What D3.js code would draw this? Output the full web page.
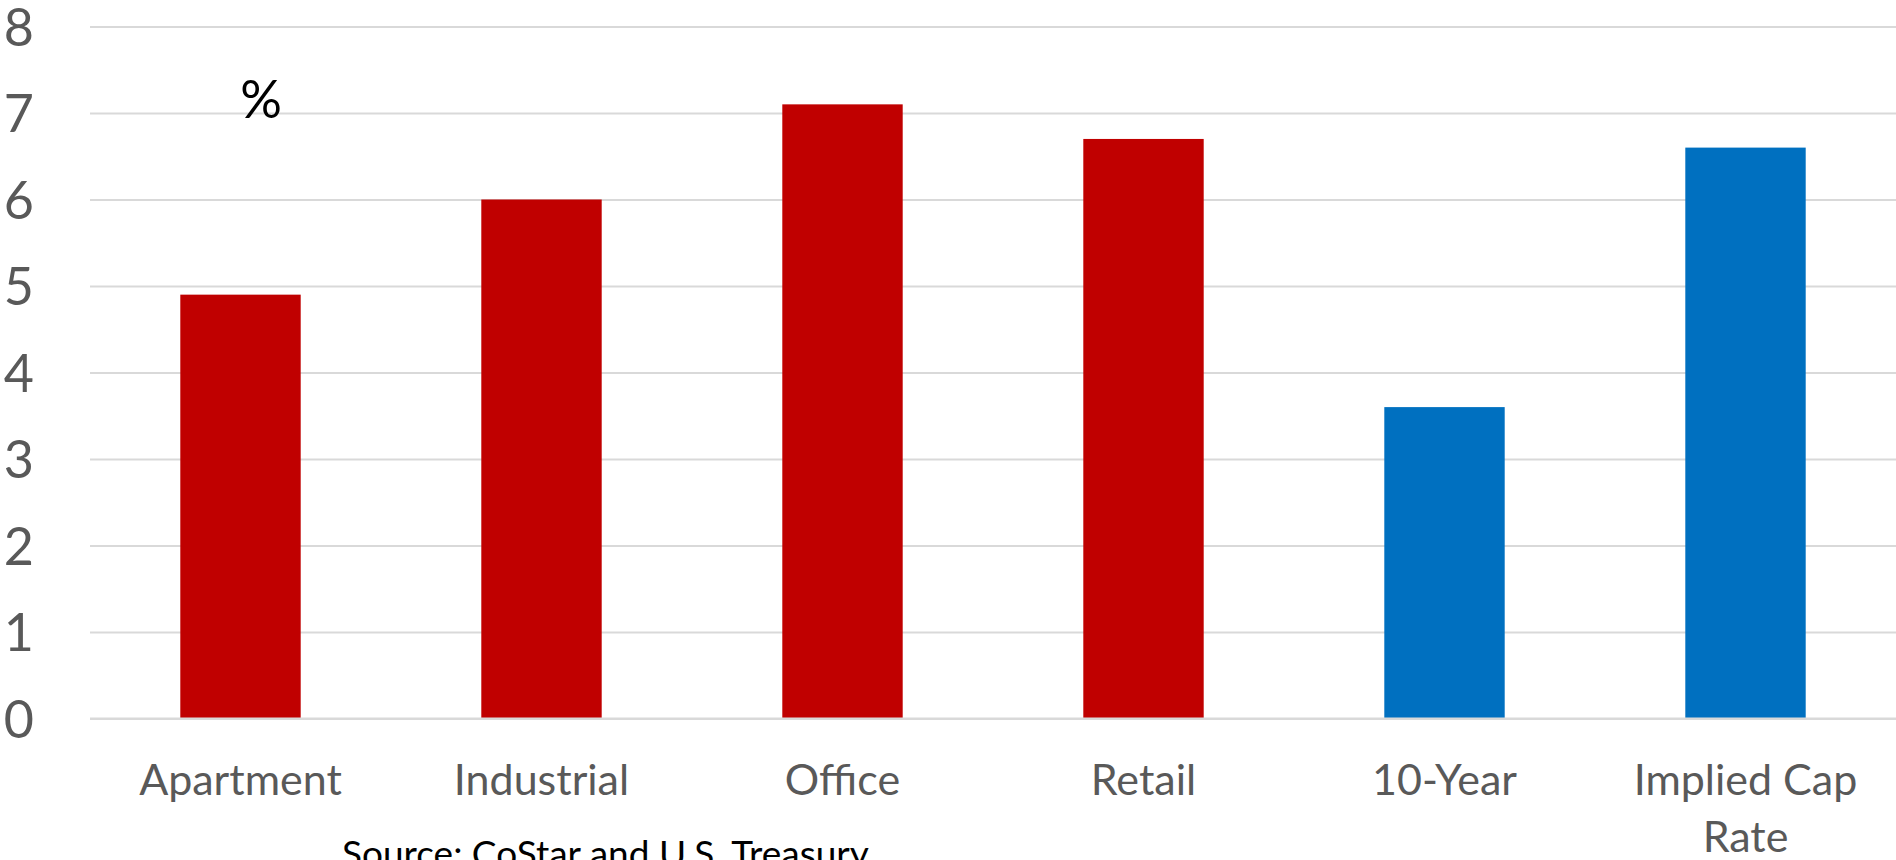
<!DOCTYPE html>
<html>
<head>
<meta charset="utf-8">
<script src="https://cdn.jsdelivr.net/npm/d3@7"></script>
<style>
  html, body { margin: 0; padding: 0; background: #fff; overflow: hidden; }
  svg { display: block; }
  text { font-family: Lato, "Open Sans", sans-serif; }
</style>
</head>
<body>
<svg id="chart" width="1896" height="860"></svg>
<script>
const categories = ["Apartment", "Industrial", "Office", "Retail", "10-Year", "Implied Cap Rate"];
const values = [4.9, 6.0, 7.1, 6.7, 3.6, 6.6];
const barColors = ["#C00000", "#C00000", "#C00000", "#C00000", "#0070C0", "#0070C0"];
const yTicks = [0, 1, 2, 3, 4, 5, 6, 7, 8];
const unitLabel = "%";
const sourceText = "Source: CoStar and U.S. Treasury";

const svg = d3.select("#chart");

const x = d3.scaleBand()
  .domain(categories)
  .range([90, 1896])
  .paddingInner(0.6)
  .paddingOuter(0.3);

const y = d3.scaleLinear()
  .domain([0, 8])
  .range([718.5, 26.5]);

// gridlines + tick labels
const yAxis = d3.axisLeft(y).tickValues(yTicks).tickSize(-(1896 - 90)).tickFormat(d3.format("d"));
const gAxis = svg.append("g").attr("transform", "translate(90,0)").call(yAxis);
gAxis.select(".domain").remove();
gAxis.selectAll(".tick line").attr("stroke", "#D9D9D9").attr("stroke-width", 2);
gAxis.selectAll(".tick text")
  .attr("x", -56)
  .attr("dy", null)
  .attr("y", 18.5)
  .attr("text-anchor", "end")
  .attr("fill", "#595959")
  .style("font-size", "52px");

// bars
svg.append("g").selectAll("rect")
  .data(values)
  .join("rect")
  .attr("x", (d, i) => x(categories[i]))
  .attr("width", x.bandwidth())
  .attr("y", d => y(d))
  .attr("height", d => y(0) - y(d))
  .attr("fill", (d, i) => barColors[i]);

// baseline gridline over bars
svg.append("line")
  .attr("x1", 90).attr("x2", 1896)
  .attr("y1", y(0)).attr("y2", y(0))
  .attr("stroke", "#D9D9D9").attr("stroke-width", 2);

// category labels (wrap "Implied Cap Rate")
const catG = svg.append("g");
categories.forEach((c, i) => {
  const cx = x(c) + x.bandwidth() / 2;
  const lines = c === "Implied Cap Rate" ? ["Implied Cap", "Rate"] : [c];
  const t = catG.append("text")
    .attr("x", cx)
    .attr("y", 795)
    .attr("text-anchor", "middle")
    .attr("fill", "#595959")
    .style("font-size", "43px");
  lines.forEach((l, k) => {
    t.append("tspan").attr("x", cx).attr("dy", k === 0 ? 0 : 57).text(l);
  });
});

// percent label
svg.append("text")
  .attr("x", 261)
  .attr("y", 118)
  .attr("text-anchor", "middle")
  .attr("fill", "#000")
  .style("font-size", "52px")
  .text(unitLabel);

// source
svg.append("text")
  .attr("x", 342)
  .attr("y", 867)
  .attr("text-anchor", "start")
  .attr("fill", "#000")
  .style("font-size", "37px")
  .text(sourceText);
</script>
</body>
</html>
